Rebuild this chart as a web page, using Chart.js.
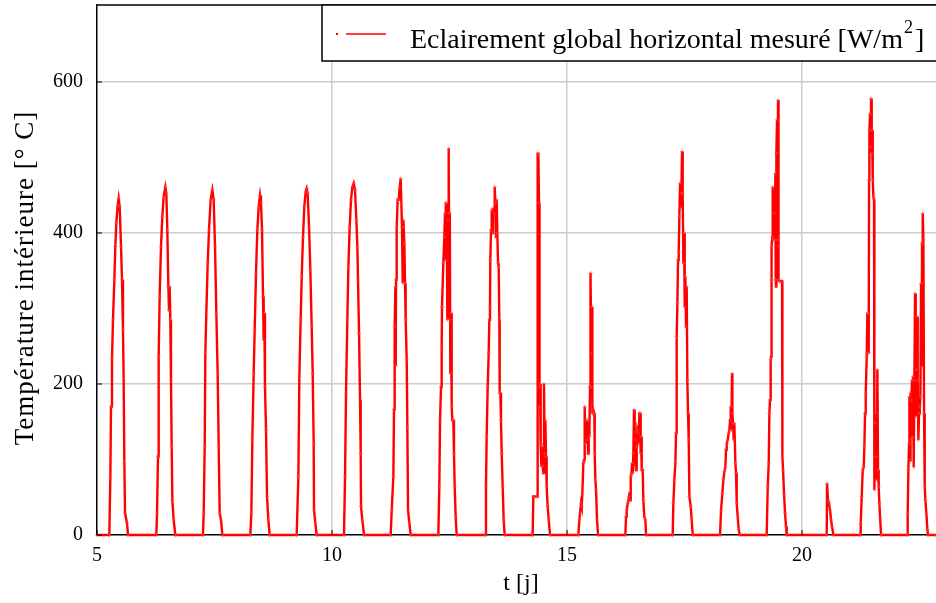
<!DOCTYPE html>
<html>
<head>
<meta charset="utf-8">
<script src="https://cdn.jsdelivr.net/npm/chart.js@4"></script>
<style>
  html, body { margin: 0; padding: 0; background: #fff; }
  canvas { display: block; }
</style>
</head>
<body>
<canvas id="graphe" width="936" height="603"></canvas>
<script>
// temps en jours, une ligne par journee
const tJours = [
  5.000,
  5.262, 5.284, 5.298, 5.319, 5.340, 5.369, 5.390, 5.411, 5.440, 5.461, 5.482, 5.511, 5.532, 5.553, 5.567, 5.582, 5.596, 5.638, 5.660,
  6.262, 6.277, 6.298, 6.312, 6.333, 6.362, 6.390, 6.418, 6.454, 6.475, 6.496, 6.518, 6.532, 6.546, 6.560, 6.574, 6.589, 6.603, 6.631, 6.667,
  7.255, 7.270, 7.291, 7.305, 7.326, 7.355, 7.383, 7.418, 7.454, 7.482, 7.511, 7.539, 7.567, 7.589, 7.610, 7.638, 7.667,
  8.262, 8.284, 8.305, 8.333, 8.355, 8.383, 8.411, 8.440, 8.468, 8.489, 8.511, 8.532, 8.546, 8.560, 8.574, 8.596, 8.617, 8.645, 8.674,
  9.248, 9.284, 9.305, 9.333, 9.355, 9.383, 9.411, 9.440, 9.461, 9.482, 9.511, 9.539, 9.567, 9.589, 9.610, 9.617, 9.645, 9.674,
  10.255, 10.277, 10.298, 10.326, 10.348, 10.376, 10.404, 10.433, 10.461, 10.489, 10.518, 10.539, 10.553, 10.575, 10.596, 10.610, 10.617, 10.645, 10.681,
  11.248, 11.270, 11.305, 11.319, 11.333, 11.348, 11.355, 11.362, 11.376, 11.397, 11.418, 11.440, 11.461, 11.475, 11.489, 11.504, 11.518, 11.539, 11.553, 11.567, 11.589, 11.603, 11.617, 11.645, 11.674,
  12.262, 12.283, 12.298, 12.319, 12.333, 12.340, 12.354, 12.368, 12.390, 12.404, 12.418, 12.425, 12.439, 12.454, 12.468, 12.482, 12.489, 12.503, 12.510, 12.517, 12.532, 12.546, 12.560, 12.581, 12.595, 12.610, 12.631, 12.652,
  13.262, 13.276, 13.290, 13.312, 13.333, 13.347, 13.361, 13.368, 13.383, 13.397, 13.411, 13.425, 13.447, 13.461, 13.475, 13.489, 13.503, 13.517, 13.532, 13.546, 13.560, 13.567, 13.581, 13.595, 13.610, 13.631, 13.652, 13.673,
  14.269, 14.283, 14.368, 14.375, 14.390, 14.404, 14.411, 14.418, 14.425, 14.439, 14.454, 14.468, 14.482, 14.496, 14.510, 14.525, 14.539, 14.553, 14.567, 14.588, 14.610, 14.638,
  15.241, 15.262, 15.277, 15.298, 15.312, 15.326, 15.347, 15.362, 15.376, 15.390, 15.404, 15.418, 15.433, 15.447, 15.461, 15.475, 15.489, 15.496, 15.503, 15.518, 15.532, 15.539, 15.553, 15.567, 15.582, 15.589, 15.603, 15.617, 15.638, 15.660,
  16.241, 16.255, 16.269, 16.291, 16.305, 16.319, 16.340, 16.355, 16.369, 16.383, 16.397, 16.411, 16.425, 16.440, 16.454, 16.468, 16.482, 16.496, 16.511, 16.525, 16.539, 16.553, 16.567, 16.574, 16.589, 16.610, 16.624, 16.645, 16.667, 16.681,
  17.248, 17.262, 17.284, 17.305, 17.319, 17.333, 17.348, 17.362, 17.376, 17.390, 17.404, 17.418, 17.433, 17.447, 17.461, 17.475, 17.489, 17.504, 17.518, 17.532, 17.546, 17.560, 17.574, 17.589, 17.603, 17.631, 17.652, 17.674,
  18.255, 18.277, 18.305, 18.326, 18.348, 18.369, 18.383, 18.397, 18.418, 18.440, 18.454, 18.468, 18.482, 18.496, 18.511, 18.518, 18.532, 18.546, 18.560, 18.582, 18.596, 18.610, 18.631, 18.653, 18.674,
  19.248, 19.270, 19.291, 19.305, 19.319, 19.333, 19.340, 19.348, 19.355, 19.369, 19.376, 19.390, 19.404, 19.418, 19.433, 19.440, 19.447, 19.454, 19.468, 19.482, 19.489, 19.496, 19.504, 19.518, 19.575, 19.582, 19.596, 19.617, 19.638, 19.660, 19.674,
  20.525, 20.532, 20.553, 20.574, 20.596, 20.617, 20.638, 20.667,
  21.234, 21.248, 21.270, 21.291, 21.312, 21.326, 21.340, 21.355, 21.376, 21.390, 21.397, 21.411, 21.418, 21.426, 21.433, 21.447, 21.461, 21.468, 21.482, 21.489, 21.504, 21.518, 21.532, 21.539, 21.553, 21.567, 21.574, 21.589, 21.603, 21.617, 21.631, 21.645, 21.660, 21.681,
  22.241, 22.248, 22.262, 22.277, 22.284, 22.298, 22.305, 22.312, 22.326, 22.340, 22.355, 22.362, 22.376, 22.390, 22.404, 22.418, 22.433, 22.447, 22.461, 22.475, 22.489, 22.504, 22.518, 22.532, 22.546, 22.553, 22.567, 22.582, 22.596, 22.610, 22.624, 22.645, 22.667, 22.681,
  22.850
];

// eclairement global horizontal mesure [W/m2]
const eclairement = [
  0,
  0, 77, 170, 232, 285, 338, 382, 413, 437, 446, 435, 382, 338, 272, 205, 95, 29, 16, 0,
  0, 29, 104, 236, 316, 382, 422, 448, 461, 453, 404, 329, 298, 329, 285, 205, 117, 46, 20, 0,
  0, 29, 117, 241, 294, 360, 404, 444, 457, 444, 382, 294, 214, 117, 29, 20, 0,
  0, 29, 126, 214, 272, 347, 404, 435, 450, 440, 404, 316, 258, 294, 196, 139, 51, 20, 0,
  0, 77, 210, 285, 342, 395, 435, 455, 459, 452, 408, 351, 276, 214, 121, 33, 16, 0,
  0, 77, 188, 285, 355, 408, 444, 461, 466, 457, 417, 382, 338, 267, 179, 108, 38, 20, 0,
  0, 33, 77, 166, 276, 329, 224, 338, 408, 444, 444, 461, 472, 439, 408, 334, 417, 386, 333, 285, 232, 143, 33, 16, 0,
  0, 64, 152, 196, 249, 302, 302, 360, 395, 426, 440, 364, 440, 285, 417, 512, 426, 285, 426, 214, 294, 170, 152, 152, 108, 64, 24, 0,
  0, 64, 130, 196, 241, 285, 302, 364, 404, 430, 400, 433, 426, 461, 440, 395, 444, 400, 360, 355, 285, 188, 188, 152, 108, 64, 20, 0,
  0, 51, 51, 505, 505, 440, 196, 170, 200, 121, 91, 117, 91, 82, 200, 108, 152, 104, 64, 38, 20, 0,
  0, 20, 29, 42, 38, 55, 95, 99, 170, 121, 152, 126, 152, 108, 152, 130, 196, 196, 347, 241, 302, 161, 166, 161, 161, 108, 73, 60, 20, 0,
  0, 24, 33, 42, 46, 51, 46, 77, 80, 95, 82, 108, 166, 91, 126, 86, 117, 139, 135, 121, 161, 161, 108, 130, 86, 86, 46, 24, 20, 0,
  0, 42, 73, 95, 135, 263, 307, 364, 375, 422, 466, 433, 453, 508, 452, 360, 400, 302, 342, 276, 329, 205, 161, 126, 51, 38, 20, 0,
  0, 33, 55, 73, 84, 90, 113, 121, 126, 135, 139, 152, 170, 139, 214, 161, 148, 126, 148, 95, 82, 42, 24, 7, 0,
  0, 64, 95, 161, 179, 232, 236, 338, 382, 395, 461, 391, 426, 391, 479, 338, 329, 506, 550, 391, 576, 382, 338, 336, 336, 104, 86, 55, 29, 11, 0,
  0, 68, 46, 42, 33, 20, 11, 0,
  0, 15, 51, 86, 90, 117, 161, 188, 236, 294, 241, 294, 241, 470, 536, 558, 514, 578, 506, 536, 470, 448, 444, 60, 148, 161, 104, 73, 219, 86, 64, 42, 24, 0,
  0, 29, 86, 121, 183, 99, 188, 126, 179, 205, 130, 210, 90, 205, 320, 157, 219, 289, 205, 126, 161, 170, 183, 333, 223, 386, 426, 391, 161, 64, 46, 29, 7, 0,
  0
];

const ticksX = [5, 10, 15, 20];
const ticksY = [0, 200, 400, 600];
const titreX = 't [j]';
const titreY = 'Température intérieure [° C]';

const police = "'Liberation Serif', 'DejaVu Serif', serif";

// cadre du haut, petites graduations internes, titres des axes et legende
const decor = {
    id: 'decor',
    afterDraw(chart) {
        const ctx = chart.ctx;
        const a = chart.chartArea;
        const sx = chart.scales.x, sy = chart.scales.y;
        ctx.save();
        ctx.strokeStyle = '#000';
        ctx.lineWidth = 1.5;
        ctx.beginPath();
        ctx.moveTo(a.left, a.top);
        ctx.lineTo(a.right, a.top);
        ctx.stroke();
        ctx.lineWidth = 1;
        ctx.beginPath();
        ticksX.forEach(v => {
            const px = sx.getPixelForValue(v);
            ctx.moveTo(px, a.bottom); ctx.lineTo(px, a.bottom - 5);
        });
        ticksY.forEach(v => {
            const py = sy.getPixelForValue(v);
            ctx.moveTo(a.left, py); ctx.lineTo(a.left + 5, py);
        });
        ctx.stroke();

        // titres des axes
        ctx.fillStyle = '#000';
        ctx.textAlign = 'center';
        ctx.textBaseline = 'middle';
        ctx.font = '24px ' + police;
        ctx.fillText(titreX, 521, 584);
        ctx.save();
        ctx.translate(26, 278);
        ctx.rotate(-Math.PI / 2);
        ctx.font = '27px ' + police;
        ctx.letterSpacing = '1px';
        ctx.fillText(titreY, 0, 0);
        ctx.restore();

        // legende
        const lx = 322, ly = 5, lh = 56;
        ctx.fillStyle = '#fff';
        ctx.fillRect(lx, ly, chart.width - lx + 5, lh);
        ctx.lineWidth = 1.5;
        ctx.strokeStyle = '#000';
        ctx.strokeRect(lx, ly, chart.width - lx + 5, lh);
        const my = 34;
        ctx.fillStyle = '#ff0000';
        ctx.fillRect(336, my - 1, 2, 2);
        ctx.strokeStyle = '#ff0000';
        ctx.lineWidth = 1.5;
        ctx.beginPath();
        ctx.moveTo(346, my); ctx.lineTo(386, my);
        ctx.stroke();
        ctx.fillStyle = '#000';
        ctx.textAlign = 'left';
        ctx.textBaseline = 'alphabetic';
        ctx.font = '28px ' + police;
        const txt = 'Eclairement global horizontal mesuré [W/m';
        ctx.fillText(txt, 410, 48);
        const w = ctx.measureText(txt).width;
        ctx.font = '18px ' + police;
        ctx.fillText('2', 410 + w + 1, 33);
        const w2 = ctx.measureText('2').width;
        ctx.font = '28px ' + police;
        ctx.fillText(']', 410 + w + w2 + 3, 48);
        ctx.restore();
    }
};

// pas de marges automatiques autour des axes
const sansMarge = s => {
    s.paddingTop = 0; s.paddingBottom = 0;
    s.paddingLeft = 0; s.paddingRight = 0;
};

new Chart(document.getElementById('graphe'), {
    type: 'line',
    data: {
        datasets: [{
            label: 'Eclairement global horizontal mesuré [W/m²]',
            data: tJours.map((t, i) => ({ x: t, y: eclairement[i] })),
            borderColor: '#ff0000',
            borderWidth: 2.4,
            tension: 0,
            pointStyle: 'cross',
            pointRadius: 2,
            pointBorderWidth: 1,
            pointBorderColor: 'rgba(255, 60, 60, 0.6)',
            clip: 4
        }]
    },
    options: {
        responsive: false,
        animation: false,
        layout: { autoPadding: false, padding: { top: 5, right: 0, left: 0, bottom: 0 } },
        plugins: {
            legend: { display: false },
            tooltip: { enabled: false }
        },
        scales: {
            x: {
                type: 'linear',
                min: 5,
                max: 22.85,
                afterFit: s => { s.height = 68; sansMarge(s); },
                afterBuildTicks: s => { s.ticks = ticksX.map(v => ({ value: v })); },
                ticks: {
                    color: '#000',
                    font: { family: police, size: 20 },
                    padding: 9,
                    maxRotation: 0
                },
                grid: {
                    color: ctx => (ctx.tick && ctx.tick.value === 5) ? 'rgba(0,0,0,0)' : '#cccccc',
                    lineWidth: 1.5,
                    drawTicks: false
                },
                border: { color: '#000', width: 1.5 }
            },
            y: {
                min: 0,
                max: 702,
                afterFit: s => { s.width = 97; sansMarge(s); },
                afterBuildTicks: s => { s.ticks = ticksY.map(v => ({ value: v })); },
                ticks: {
                    color: '#000',
                    font: { family: police, size: 20 },
                    padding: 14
                },
                grid: {
                    color: ctx => (ctx.tick && ctx.tick.value === 0) ? 'rgba(0,0,0,0)' : '#cccccc',
                    lineWidth: 1.5,
                    drawTicks: false
                },
                border: { color: '#000', width: 1.5 }
            }
        }
    },
    plugins: [decor]
});
</script>
</body>
</html>
